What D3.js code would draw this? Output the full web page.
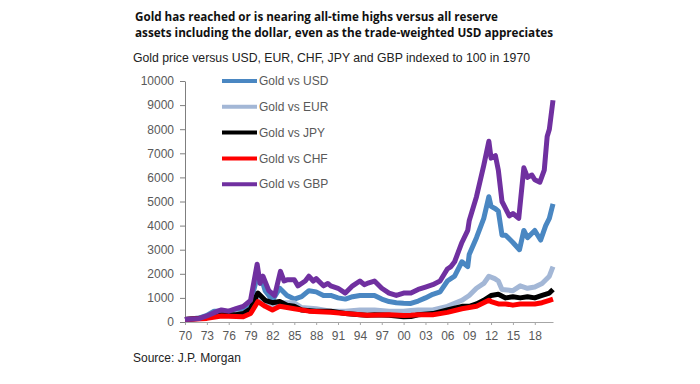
<!DOCTYPE html>
<html>
<head>
<meta charset="utf-8">
<script src="https://cdn.jsdelivr.net/npm/d3@7"></script>
<style>
  body { margin: 0; background: #fff; }
  .axis text { font-family: "Liberation Sans", Arial, sans-serif; font-size: 12px; fill: #595959; }
  .axis path, .axis line { stroke: #a6a6a6; }
</style>
</head>
<body>
<script>
// Data (index, 1970 = 100)
var years = {
  gbp: [1970, 1972, 1973, 1974.5, 1975, 1976, 1977, 1978, 1979, 1979.9, 1980.3, 1980.7, 1981.5, 1982.3, 1983.1, 1983.6, 1984, 1985, 1985.5, 1986.5, 1987, 1987.6, 1988, 1989, 1989.6, 1990, 1991, 1992, 1993, 1994, 1994.6, 1995, 1996, 1997, 1998, 1999, 2000, 2001, 2002, 2003, 2004, 2005, 2006, 2006.5, 2007, 2008, 2008.8, 2009, 2010, 2011, 2011.7, 2012, 2012.6, 2013, 2013.5, 2014, 2014.5, 2015, 2015.8, 2016.5, 2017, 2017.6, 2018, 2018.7, 2019.3, 2019.7, 2020, 2020.5],
  usd: [1970, 1972, 1973, 1974, 1975, 1976, 1977, 1978, 1979, 1980, 1980.5, 1981, 1982, 1983, 1984, 1985, 1986, 1987, 1988, 1989, 1990, 1991, 1992, 1993, 1994, 1995, 1996, 1997, 1998, 1999, 2000, 2001, 2002, 2003, 2004, 2005, 2006, 2007, 2008, 2008.8, 2009, 2010, 2011, 2011.7, 2012, 2012.6, 2013, 2013.5, 2014, 2015, 2015.9, 2016.5, 2017, 2018, 2018.8, 2019.5, 2020, 2020.5],
  eur: [1970, 1973, 1975, 1978, 1979, 1980, 1981, 1982, 1983, 1985, 1986, 1988, 1990, 1992, 1994, 1996, 1998, 2000, 2001, 2002, 2004, 2006, 2008, 2009, 2010, 2011, 2011.7, 2012.5, 2013, 2013.5, 2015, 2016, 2017, 2018, 2019, 2020, 2020.5],
  jpy: [1970, 1973, 1975, 1977, 1978, 1979, 1980, 1981, 1982, 1983, 1984, 1985, 1986, 1988, 1990, 1992, 1994, 1995, 1996, 1998, 2000, 2001, 2002, 2004, 2006, 2008, 2009, 2010, 2011, 2012, 2013, 2014, 2015, 2016, 2017, 2018, 2019, 2020, 2020.5],
  chf: [1970, 1973, 1975, 1978, 1979, 1980, 1981, 1982, 1983, 1985, 1987, 1990, 1992, 1995, 1998, 2000, 2001, 2002, 2004, 2006, 2008, 2010, 2011.7, 2012, 2013, 2014, 2015, 2016, 2018, 2019, 2020, 2020.5]
};
var gbpValues = [100, 150, 250, 450, 500, 450, 550, 650, 900, 2400, 1600, 1900, 1300, 1100, 2100, 1700, 1750, 1750, 1500, 1700, 1900, 1700, 1800, 1500, 1600, 1500, 1400, 1200, 1500, 1700, 1550, 1600, 1700, 1400, 1200, 1100, 1200, 1200, 1350, 1450, 1550, 1700, 2200, 2300, 2500, 3300, 3800, 4200, 5200, 6500, 7500, 6800, 6900, 6300, 5000, 4700, 4400, 4500, 4300, 6400, 6000, 6100, 5900, 5800, 6300, 7700, 8000, 9200];
var usdValues = [100, 170, 270, 450, 450, 350, 420, 550, 800, 2000, 1800, 1300, 900, 1400, 1100, 950, 1050, 1300, 1250, 1100, 1100, 1000, 950, 1050, 1100, 1100, 1100, 950, 850, 800, 780, 770, 870, 1000, 1150, 1250, 1700, 1900, 2500, 2300, 2800, 3500, 4300, 5200, 4800, 4700, 4600, 3600, 3600, 3300, 3000, 3800, 3500, 3800, 3400, 4000, 4300, 4900];
var eurValues = [100, 200, 300, 350, 500, 900, 800, 700, 800, 800, 600, 550, 450, 450, 500, 500, 450, 450, 480, 500, 500, 650, 900, 1100, 1400, 1600, 1900, 1800, 1700, 1350, 1300, 1500, 1400, 1450, 1600, 1900, 2300];
var jpyValues = [100, 180, 300, 300, 350, 550, 1200, 900, 800, 850, 700, 650, 500, 450, 450, 350, 300, 280, 300, 280, 220, 230, 300, 350, 500, 650, 650, 750, 900, 1100, 1150, 1000, 1050, 1000, 1050, 1000, 1100, 1200, 1350];
var chfValues = [100, 150, 250, 220, 350, 850, 650, 500, 650, 550, 450, 400, 350, 280, 300, 270, 280, 300, 300, 400, 550, 650, 900, 850, 750, 750, 700, 750, 750, 800, 900, 950];

var seriesNames = ['Gold vs USD', 'Gold vs EUR', 'Gold vs JPY', 'Gold vs CHF', 'Gold vs GBP'];
var seriesColors = ['#4a87c2', '#a3b7d6', '#000000', '#ff0000', '#7030a0'];
var xTicks = d3.range(1970, 2019, 3);
var yTicks = d3.range(0, 10001, 1000);

var series = [
  { name: seriesNames[0], color: seriesColors[0], x: years.usd, y: usdValues },
  { name: seriesNames[1], color: seriesColors[1], x: years.eur, y: eurValues },
  { name: seriesNames[2], color: seriesColors[2], x: years.jpy, y: jpyValues },
  { name: seriesNames[3], color: seriesColors[3], x: years.chf, y: chfValues },
  { name: seriesNames[4], color: seriesColors[4], x: years.gbp, y: gbpValues }
];

var width = 700, height = 384;

var svg = d3.select('body').append('svg')
    .attr('width', width)
    .attr('height', height);

// titles
var titleLines = [
  'Gold has reached or is nearing all-time highs versus all reserve',
  'assets including the dollar, even as the trade-weighted USD appreciates'
];
svg.selectAll('.title')
  .data(titleLines)
  .join('text')
    .attr('class', 'title')
    .attr('x', 135)
    .attr('y', function (d, i) { return 21 + i * 16; })
    .attr('textLength', function (d, i) { return i ? 418 : 363; })
    .attr('lengthAdjust', 'spacingAndGlyphs')
    .style('font-family', '"Open Sans", sans-serif')
    .style('font-weight', 'bold')
    .style('font-size', '12.5px')
    .style('fill', '#111')
    .text(function (d) { return d; });

svg.append('text')
    .attr('x', 133).attr('y', 62)
    .attr('textLength', 397)
    .attr('lengthAdjust', 'spacingAndGlyphs')
    .style('font-family', '"Liberation Sans", Arial, sans-serif')
    .style('font-size', '13px')
    .style('fill', '#222')
    .text('Gold price versus USD, EUR, CHF, JPY and GBP indexed to 100 in 1970');

svg.append('text')
    .attr('x', 133).attr('y', 362)
    .style('font-family', '"Liberation Sans", Arial, sans-serif')
    .style('font-size', '12px')
    .style('fill', '#222')
    .text('Source: J.P. Morgan');

var xScale = d3.scaleLinear().domain([1970, 2020.5]).range([185, 553]);
var yScale = d3.scaleLinear().domain([0, 10000]).range([322, 81]);

svg.append('g')
    .attr('class', 'axis')
    .attr('transform', 'translate(0,' + yScale(0) + ')')
    .call(d3.axisBottom(xScale)
      .tickValues(xTicks)
      .tickSize(3)
      .tickSizeOuter(0)
      .tickPadding(6)
      .tickFormat(function (d) { return d3.format('02d')(d % 100); }));

var yAxis = svg.append('g')
    .attr('class', 'axis')
    .attr('transform', 'translate(' + xScale(1970) + ',0)')
    .call(d3.axisLeft(yScale)
      .tickValues(yTicks)
      .tickSize(5)
      .tickSizeOuter(0)
      .tickPadding(6)
      .tickFormat(d3.format('d')));
yAxis.select('.domain').style('stroke', '#7f7f7f');
yAxis.selectAll('line').style('stroke', '#7f7f7f');

var line = d3.line()
    .x(function (d) { return xScale(d[0]); })
    .y(function (d) { return yScale(d[1]); });

series.forEach(function (s) {
  svg.append('path')
      .attr('d', line(d3.zip(s.x, s.y)))
      .attr('fill', 'none')
      .attr('stroke', s.color)
      .attr('stroke-width', 5)
      .attr('stroke-linejoin', 'round');
});

// legend
var legend = svg.append('g').selectAll('g')
    .data(series)
    .join('g')
      .attr('transform', function (d, i) { return 'translate(222,' + (81 + i * 25.8) + ')'; });
legend.append('line')
    .attr('x1', 0).attr('x2', 35)
    .attr('stroke', function (d) { return d.color; })
    .attr('stroke-width', 4);
legend.append('text')
    .attr('x', 37).attr('dy', '0.35em')
    .style('font-family', '"Liberation Sans", Arial, sans-serif')
    .style('font-size', '12px')
    .style('fill', '#595959')
    .text(function (d) { return d.name; });
</script>
</body>
</html>
